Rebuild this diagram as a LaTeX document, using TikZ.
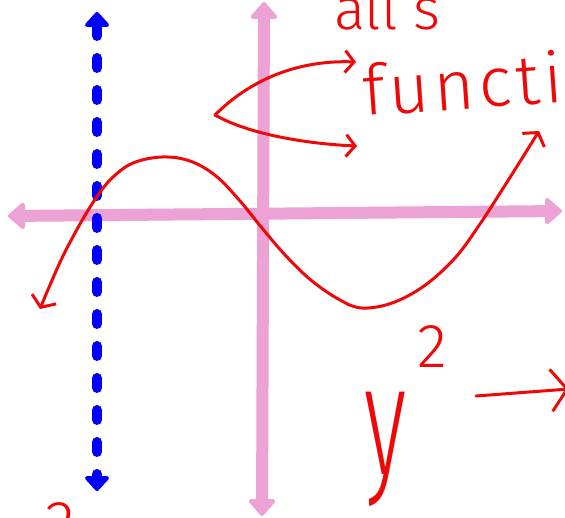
\documentclass[tikz,border=0pt]{standalone}
\usepackage{fontspec}
\usepackage{tikz}
\usetikzlibrary{arrows.meta, calc}
\newfontfamily\handfont{Fira Sans}[UprightFont={* Light}]
\definecolor{cAxis}{RGB}{236,162,212}
\definecolor{cAsym}{RGB}{0,0,250}
\definecolor{cInk}{RGB}{238,8,8}
\tikzset{
    axis/.style     ={line width=12pt, draw=cAxis, {Triangle[length=18pt,width=30pt,round,line width=4pt]}-{Triangle[length=18pt,width=30pt,round,line width=4pt]}},
    asymptote/.style={line width=10pt, draw=cAsym, line cap=round, dash pattern=on 10pt off 22pt, {Triangle[length=16pt,width=28pt,round,line width=4pt]}-{Triangle[length=16pt,width=28pt,round,line width=4pt]}},
    ink/.style      ={line width=3pt, draw=cInk, line cap=round, line join=round},
    inkarrow/.style ={ink, -{Straight Barb[length=9pt,width=22pt,line width=3pt]}},
    handtext/.style ={text=cInk, inner sep=0pt, font=\handfont},
}

\begin{document}
\begin{tikzpicture}[x=1pt, y=-1pt]
    \useasboundingbox (0,0) rectangle (565,517);
    \clip (0,0) rectangle (565,517);
    % axes
    \coordinate (xl) at (8,216);
    \coordinate (xr) at (562,211);
    \coordinate (yt) at (264,2);
    \coordinate (yb) at (262,516);
    \draw[axis] (xl) -- (xr);
    \draw[axis] (yt) -- (yb);
    % asymptote
    \coordinate (at) at (97,12);
    \coordinate (ab) at (97,491);
    \draw[asymptote] (at) -- (ab);
    % the curve
    \draw[ink, {Straight Barb[length=9pt,width=26pt,line width=3pt]}-{Straight Barb[length=9pt,width=26pt,line width=3pt]}]
        plot[smooth, tension=0.6] coordinates {(40,309) (50,285) (63,256) (80,224) (96,198) (112,178) (133,163) (162,157) (190,161) (216,176) (240,201) (262,228) (286,256) (312,281) (340,300) (362,308) (392,303) (424,286) (455,258) (480,224) (502,190) (521,160) (539,131)};
    % brace arrows
    \coordinate (br) at (215,115);
    \coordinate (bt) at (356,62);
    \coordinate (bb) at (357,146);
    \draw[inkarrow] (br) .. controls (255,75) and (305,60) .. (bt);
    \draw[inkarrow] (br) .. controls (250,135) and (310,144) .. (bb);
    % texts
    \node[handtext, anchor=base west, font=\handfont\fontsize{58}{58}\selectfont] (all) at (334,29) {all s};
    \node[handtext, anchor=base west, rotate=4, font=\handfont\fontsize{70}{70}\selectfont\addfontfeature{LetterSpace=6}] (fn) at (364,116) {functi};
    \node[handtext, font=\handfont\fontsize{62}{62}\selectfont] (two) at (432,347) {2};
    \node[handtext, anchor=north, font=\handfont\fontsize{90}{90}\selectfont] (yy) at (386,392) {\scalebox{1}[1.75]{y}};
    \node[handtext, anchor=north, font=\handfont\fontsize{62}{62}\selectfont] (two2) at (60,502) {2};
    \coordinate (ra) at (476,396);
    \coordinate (rb) at (569,389);
    \draw[ink, -{Straight Barb[length=16pt,width=42pt,line width=3pt]}] (ra) -- (rb);
\end{tikzpicture}
\end{document}
